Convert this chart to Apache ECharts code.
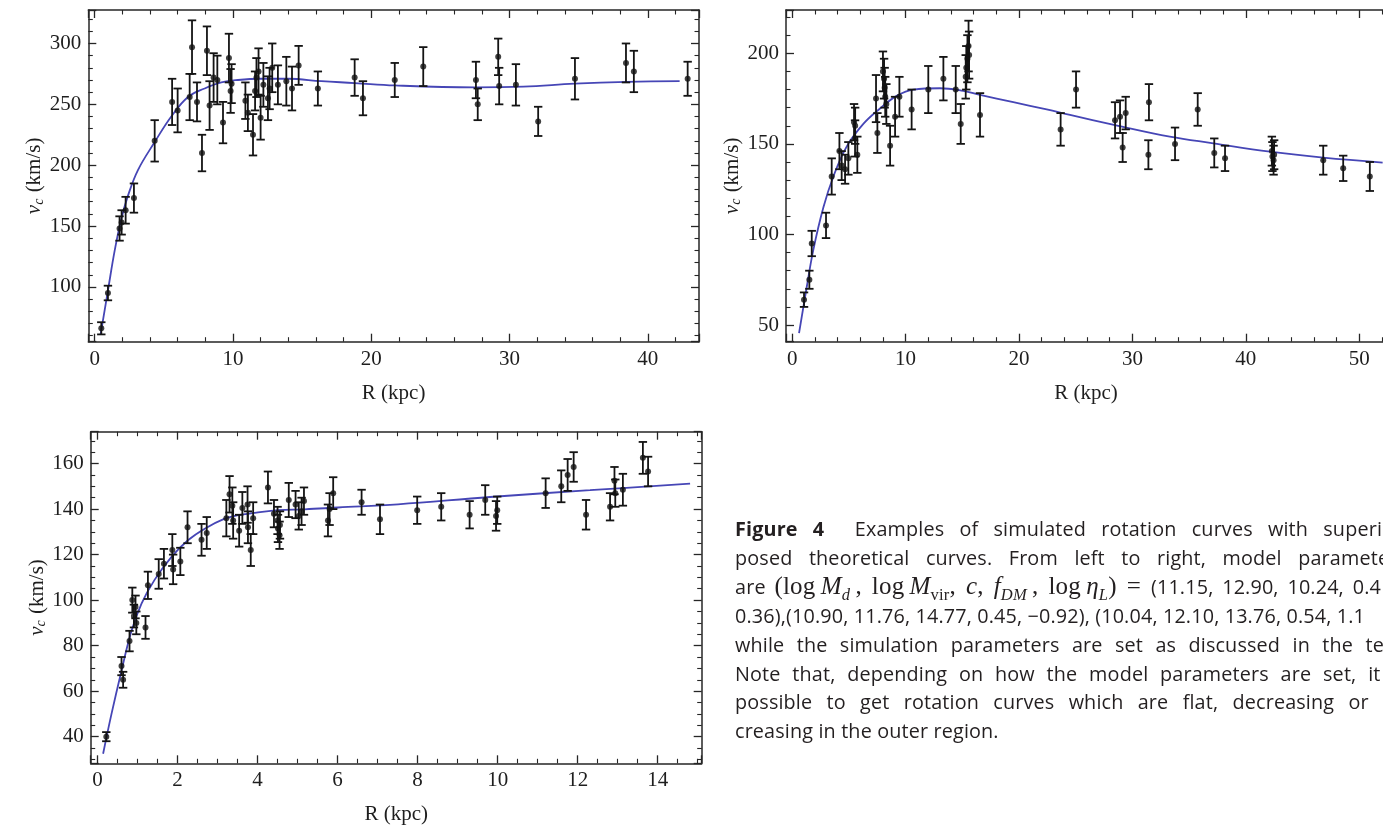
<!DOCTYPE html>
<html>
<head>
<meta charset="utf-8">
<script src="https://cdn.jsdelivr.net/npm/echarts@6/dist/echarts.min.js"></script>
<style>
  html, body { margin: 0; padding: 0; background: #fff; }
  #wrap { position: relative; width: 1383px; height: 828px; overflow: hidden; }
  #main { position: absolute; left: 0; top: 0; width: 1383px; height: 828px; }
  #caption { position: absolute; left: 735px; top: 515px; width: 672px;
    font-family: "Open Sans", sans-serif; font-size: 19.8px; letter-spacing: 0.15px;
    color: #231f20; line-height: 28.7px; }
  #caption div { white-space: nowrap; }
  #caption .j { text-align: justify; text-align-last: justify; }
  #caption .w { word-spacing: 3.5px; }
  #caption .m { font-family: "Liberation Serif", serif; font-size: 25px; letter-spacing: 0.2px; }
  #caption sub { font-size: 66%; line-height: 0; }
</style>
</head>
<body>
<div id="wrap">
  <div id="main"></div>
  <div id="caption">
    <div class="j"><b>Figure 4</b>&nbsp; Examples of simulated rotation curves with superim-</div>
    <div class="j">posed theoretical curves. From left to right, model parameters</div>
    <div class="w">are <span class="m">(log&thinsp;<i>M</i><sub><i>d</i></sub>&thinsp;, log&thinsp;<i>M</i><sub>vir</sub>, <i>c</i>, <i>f</i><sub><i>DM</i></sub>&thinsp;, log&thinsp;<i>η</i><sub><i>L</i></sub>) = </span>(11.15, 12.90, 10.24, 0.4</div>
    <div>0.36),(10.90, 11.76, 14.77, 0.45, −0.92), (10.04, 12.10, 13.76, 0.54, 1.1</div>
    <div class="j">while the simulation parameters are set as discussed in the text.</div>
    <div class="j">Note that, depending on how the model parameters are set, it is</div>
    <div class="j">possible to get rotation curves which are flat, decreasing or in-</div>
    <div>creasing in the outer region.</div>
  </div>
</div>
<script>
// 面板1 数据 (R kpc, v km/s, 误差)
var r1 = [0.48,0.96,1.8,1.95,2.24,2.84,4.34,5.6,6.0,6.87,7.04,7.4,7.76,8.12,8.31,8.6,8.87,9.28,9.71,9.83,9.9,10.9,11.08,11.45,11.6,11.7,11.85,12.0,12.2,12.53,12.65,12.84,13.25,13.86,14.27,14.75,16.14,18.8,19.4,21.7,23.76,27.57,27.7,29.18,29.25,30.46,32.07,34.73,38.42,38.99,42.88];
var v1 = [66,95,148,153,163,173,220,252,245,256,297,252,210,294,249,272,270,235,288,261,267,253,243,225,261,272,277,239,266,255,263,280,266,269,263,282,263,272,255,270,281,270,250,289,265,266,236,271,284,277,271];
var e1 = [5,6,10,10,11,12,17,19,18,19,22,16,15,20,20,20,20,17,20,18,16,15,15,17,16,16,19,18,18,18,17,20,16,20,18,16,14,15,14,14,16,15,13,15,15,17,12,17,16,17,14];
var fitR1 = [0.43,0.96,1.45,1.93,2.41,3.13,4.34,5.54,6.75,7.95,9.16,10.36,12.0,14.0,16.4,18.8,21.7,27.5,31,34.7,38.5,42.3];
var fitV1 = [61,97,130,156,175,196,219,240,256,263,268,270,271,271,269,267.5,265.5,264,264.5,267,268.5,269];

// 面板2
var r2 = [1.04,1.51,1.72,2.98,3.48,4.16,4.36,4.66,4.95,5.45,5.55,5.54,5.74,7.39,7.51,8.0,8.1,8.15,8.2,8.3,8.63,9.07,9.45,10.53,12.0,13.33,14.42,14.86,15.3,15.35,15.45,15.55,15.6,16.56,23.67,25.03,28.47,28.91,29.14,29.41,31.46,31.41,33.76,35.76,37.22,38.17,42.3,42.35,42.45,42.5,46.83,48.59,50.94];
var v2 = [64,75,95,105,132,146,138,136,142,162,160,153,144,175,156,190,186,181,176,172,149,165,176,169,180,186,180,161,187,192,197,204,199,166,158,180,163,165,148,167,173,144,150,169,145,142,146,143,141,144,141,136.5,132];
var e2 = [4,5,7,7,10,10,8,8,9,10,10,10,10,13,11,11,11,11,11,11,11,11,11,11,13,12,13,11,12,12,13,14,13,12,9,10,10,9,8,9,10,8,9,9,8,7,8,8,8,8,8,7,8];
var fitR2 = [0.6,1.28,1.86,2.75,3.63,4.8,6.27,7.74,9.21,10.68,13.03,15.09,16.56,19.5,22.44,24.5,28.47,33.3,37.14,42.13,46.83,52.07];
var fitV2 = [45.5,71,91.5,115,132,148.5,161,169.5,176.5,180,180.7,179.2,177,173,169,166,160.4,154,150.3,145.7,142.4,139.7];

// 面板3
var r3 = [0.22,0.6,0.64,0.8,0.87,0.91,0.95,0.97,1.2,1.26,1.53,1.66,1.87,1.89,2.07,2.25,2.6,2.73,3.22,3.3,3.37,3.39,3.54,3.62,3.75,3.76,3.83,3.89,4.26,4.41,4.5,4.51,4.55,4.56,4.78,4.95,5.03,5.1,5.16,5.76,5.8,5.89,6.6,7.06,7.99,8.59,9.3,9.69,9.96,9.99,11.2,11.59,11.75,11.9,12.21,12.81,12.92,12.94,13.13,13.63,13.76];
var v3 = [40,71,65,82,100,93,97,90,88,106.5,111.5,116,122,113.5,117,132,126.5,129.5,136,146.5,141.5,135,130.5,140.5,142,132,122,136,149.5,138,135,131.5,128.5,133,144,142,137,139,143.5,135,140,147,143,135.5,139.5,141,137.5,144,137,139.5,147,150,155,158.5,137.5,141,152.5,147,148.5,162.5,156.5];
var e3 = [2,4,3.5,4.5,5.5,5,5,5,5,6,6.5,6.5,7,6.5,6,7,7,7,8,8,8,8,7,7,8,7,7,7,7,6,6,6,6,6,7.5,6,6,6,6,7,7,7,5.5,6.5,6,6,6,6.5,6.5,6,6.5,7,7,6.5,6.5,6,6,6,7,7,6.5];
var fitR3 = [0.14,0.35,0.6,0.85,1.1,1.43,1.85,2.26,2.68,3.18,3.51,3.93,4.51,5.18,6.01,7.51,9.81,12.31,14.81];
var fitV3 = [32.5,50,69,86.5,98.5,109,119,126.3,131.4,135.8,137.3,138.3,139.5,139.9,140.7,142.1,145.3,148.3,151.2];

var frameColor = '#262626';
var textColor = '#1e1e1e';
var serif = 'Liberation Serif';

function zip3(a, b, c) {
    var out = [];
    for (var i = 0; i < a.length; i++) out.push([a[i], b[i], c[i]]);
    return out;
}
function zip2(a, b) {
    var out = [];
    for (var i = 0; i < a.length; i++) out.push([a[i], b[i]]);
    return out;
}

function mkAxis(grid, pos, min, max, step, minorSplit, showLabel) {
    return {
        type: 'value', gridIndex: grid, position: pos,
        min: min, max: max, minInterval: step, maxInterval: step,
        axisLine: {show: true, onZero: false, lineStyle: {color: frameColor, width: 1.5}},
        axisTick: {show: true, inside: true, length: 8, lineStyle: {color: frameColor, width: 1.3}},
        minorTick: {show: true, splitNumber: minorSplit, length: 4.5, lineStyle: {color: frameColor, width: 1.1}},
        splitLine: {show: false},
        axisLabel: {show: showLabel, showMinLabel: false, showMaxLabel: false, margin: 7,
            fontFamily: serif, fontSize: 21, color: textColor}
    };
}

// 误差棒
function errorBars(params, api) {
    var x = api.value(0), y = api.value(1), e = api.value(2);
    var lo = api.coord([x, y - e]);
    var hi = api.coord([x, y + e]);
    var w = 4.2;
    var st = {stroke: '#141414', lineWidth: 1.8};
    return {
        type: 'group',
        children: [
            {type: 'line', shape: {x1: lo[0], y1: lo[1], x2: hi[0], y2: hi[1]}, style: st},
            {type: 'line', shape: {x1: lo[0] - w, y1: lo[1], x2: lo[0] + w, y2: lo[1]}, style: st},
            {type: 'line', shape: {x1: hi[0] - w, y1: hi[1], x2: hi[0] + w, y2: hi[1]}, style: st}
        ]
    };
}

var panels = [
    {grid: {left: 88.3, top: 10, width: 610.7, height: 331.7}, x: [-0.46, 43.7, 10, 5], y: [55, 327.5, 50, 5],
     pts: zip3(r1, v1, e1), fit: zip2(fitR1, fitV1), shift: 0},
    {grid: {left: 786, top: 10, width: 620, height: 331.7}, x: [-0.55, 54.13, 10, 5], y: [40.8, 223.9, 50, 5],
     pts: zip3(r2, v2, e2), fit: zip2(fitR2, fitV2), shift: 20},
    {grid: {left: 90.7, top: 431.7, width: 611, height: 331.6}, x: [-0.17, 15.1, 2, 4], y: [28.3, 174, 20, 4],
     pts: zip3(r3, v3, e3), fit: zip2(fitR3, fitV3), shift: 0}
];

var grids = [], xAxes = [], yAxes = [], series = [];
panels.forEach(function (p, i) {
    var g = p.grid;
    g.show = false;
    g.outerBoundsMode = 'none';
    grids.push(g);

    var xb = mkAxis(i, 'bottom', p.x[0], p.x[1], p.x[2], p.x[3], true);
    xb.name = 'R (kpc)';
    xb.nameLocation = 'middle';
    xb.nameGap = 41;
    // 第二个面板右边被裁掉，标题往左挪一点
    xb.nameTextStyle = {fontFamily: serif, fontSize: 21, color: textColor, padding: [0, p.shift, 0, 0]};
    xAxes.push(xb, mkAxis(i, 'top', p.x[0], p.x[1], p.x[2], p.x[3], false));

    var yl = mkAxis(i, 'left', p.y[0], p.y[1], p.y[2], p.y[3], true);
    yl.name = '{v|v}{c|c} (km/s)';
    yl.nameLocation = 'middle';
    yl.nameRotate = 90;
    yl.nameGap = 36;
    yl.nameTextStyle = {fontFamily: serif, fontSize: 21, color: textColor,
        rich: {
            v: {fontFamily: serif, fontSize: 21, fontStyle: 'italic', color: textColor},
            c: {fontFamily: serif, fontSize: 14, fontStyle: 'italic', color: textColor, padding: [8, 1, 0, 0]}
        }};
    yAxes.push(yl, mkAxis(i, 'right', p.y[0], p.y[1], p.y[2], p.y[3], false));

    series.push({
        type: 'line', xAxisIndex: 2 * i, yAxisIndex: 2 * i, data: p.fit,
        smooth: 0.4, symbol: 'none', lineStyle: {color: '#4646b6', width: 1.8}, z: 2
    });
    series.push({
        type: 'custom', xAxisIndex: 2 * i, yAxisIndex: 2 * i, data: p.pts,
        renderItem: errorBars, encode: {x: 0, y: 1}, z: 3
    });
    series.push({
        type: 'scatter', xAxisIndex: 2 * i, yAxisIndex: 2 * i, data: p.pts,
        symbolSize: 6, itemStyle: {color: '#111'}, z: 4
    });
});

var myChart = echarts.init(document.getElementById('main'), null, {renderer: 'canvas'});
var option = {
    animation: false,
    backgroundColor: '#fff',
    grid: grids,
    xAxis: xAxes,
    yAxis: yAxes,
    series: series
};
myChart.setOption(option);
</script>
</body>
</html>
